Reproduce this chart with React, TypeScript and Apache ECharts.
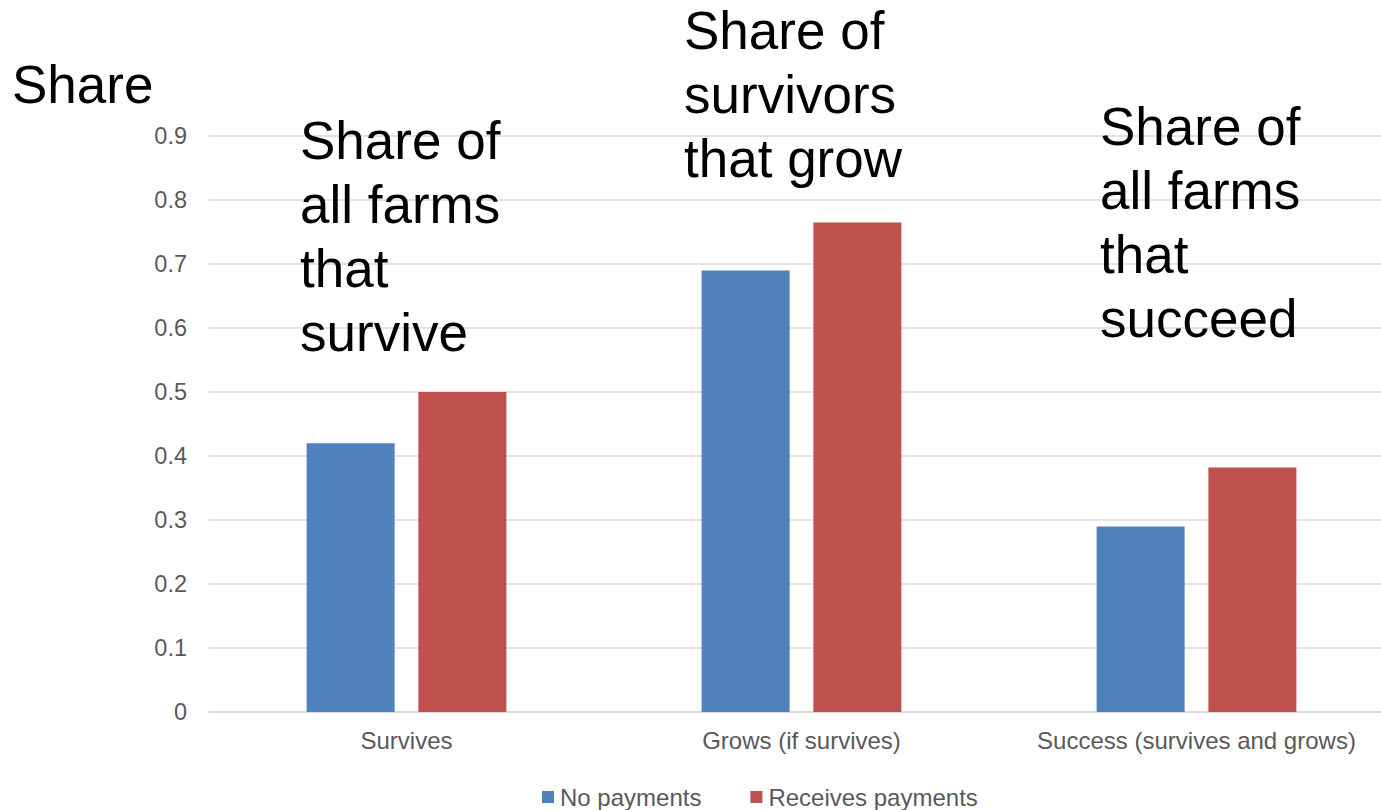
import React, { useEffect, useRef } from "react";
import * as echarts from "echarts";

const categories = ["Survives", "Grows (if survives)", "Success (survives and grows)"];
const noPayments = [0.42, 0.69, 0.29];
const receivesPayments = [0.5, 0.765, 0.382];
const seriesNames = ["No payments", "Receives payments"];
const yTicks = { min: 0, max: 0.9, interval: 0.1 };
const annotations = [
  "Share of\nall farms\nthat\nsurvive",
  "Share of\nsurvivors\nthat grow",
  "Share of\nall farms\nthat\nsucceed",
];
const yTitle = "Share";

const FONT = "'Liberation Sans', Arial, sans-serif";
const GRAY = "#595959";

export default function App() {
  const ref = useRef<HTMLDivElement>(null);

  useEffect(() => {
    if (!ref.current) return;
    const chart = echarts.init(ref.current, undefined, { renderer: "svg" });

    const bigText = (text: string, x: number, y: number) => ({
      type: "text",
      x,
      y,
      silent: true,
      z: 100,
      style: {
        text,
        fill: "#000",
        font: `53px ${FONT}`,
        lineHeight: 64,
        verticalAlign: "top",
        align: "left",
      },
    });

    chart.setOption({
      animation: false,
      backgroundColor: "#fff",
      textStyle: { fontFamily: FONT },
      // the plot runs slightly past the right edge of the visible page
      grid: { left: 209, right: 0, top: 136, bottom: 98, containLabel: false },
      legend: {
        left: 542,
        top: 785,
        padding: 0,
        icon: "rect",
        itemWidth: 12,
        itemHeight: 12,
        itemGap: 49,
        textStyle: { color: GRAY, fontSize: 24, fontFamily: FONT, padding: [0, 0, 0, 1] },
        data: seriesNames,
      },
      xAxis: {
        type: "category",
        data: categories,
        axisLine: { lineStyle: { color: "#D9D9D9", width: 1.5 } },
        axisTick: { show: false },
        axisLabel: { color: GRAY, fontSize: 24, fontFamily: FONT, margin: 16, interval: 0 },
      },
      yAxis: {
        type: "value",
        min: yTicks.min,
        max: yTicks.max,
        interval: yTicks.interval,
        axisLine: { show: false },
        axisTick: { show: false },
        axisLabel: { color: GRAY, fontSize: 23.5, fontFamily: FONT, margin: 22 },
        splitLine: { lineStyle: { color: "#D9D9D9", width: 1.5 } },
      },
      series: [
        {
          name: seriesNames[0],
          type: "bar",
          data: noPayments,
          barWidth: 88,
          barGap: "27%",
          itemStyle: { color: "#4F81BD" },
        },
        {
          name: seriesNames[1],
          type: "bar",
          data: receivesPayments,
          barWidth: 88,
          barGap: "27%",
          itemStyle: { color: "#C0504D" },
        },
      ],
      graphic: [
        bigText(yTitle, 12, 52),
        bigText(annotations[0], 300, 108),
        bigText(annotations[1], 684, -2),
        bigText(annotations[2], 1100, 94),
      ],
    });

    return () => chart.dispose();
  }, []);

  return (
    <div
      ref={ref}
      style={{ position: "fixed", left: 0, top: 0, width: 1394, height: 810 }}
    />
  );
}
